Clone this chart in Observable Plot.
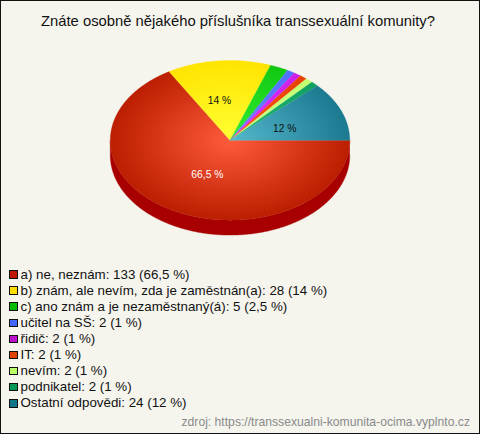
<!DOCTYPE html>
<html lang="cs"><head><meta charset="utf-8">
<script src="https://cdn.jsdelivr.net/npm/d3@7"></script>
<script src="https://cdn.jsdelivr.net/npm/@observablehq/plot@0.6"></script>
<style>
html,body{margin:0;padding:0;background:#f5f5ee}
#c{position:relative;width:480px;height:434px;box-sizing:border-box;border:1px solid #111;background:#f5f5ee;overflow:hidden;font-family:"Liberation Sans",Arial,sans-serif;color:#111}
#t{position:absolute;left:-1px;width:476px;top:11px;text-align:center;font-size:14.8px;line-height:18px}
#p{position:absolute;left:-1px;top:49px}
#p svg{background:transparent;display:block}
#l{position:absolute;left:8px;top:265.5px;font-size:13.33px}
.r{height:16.1px;line-height:16.1px;white-space:nowrap;display:flex;align-items:center}
.s{width:6.5px;height:6.5px;border:1px solid #111;margin-right:3px;flex:none}
#z{position:absolute;right:9px;top:414px;font-size:12.17px;line-height:15px;color:#8a8a8a}
</style></head><body>
<div id="c">
<div id="t"></div><div id="p"></div><div id="l"></div><div id="z"></div>
</div>
<script>
const title = "Znáte osobně nějakého příslušníka transsexuální komunity?";
const source = "zdroj: https://transsexualni-komunita-ocima.vyplnto.cz";
const categories = ["a) ne, neznám","b) znám, ale nevím, zda je zaměstnán(a)","c) ano znám a je nezaměstnaný(á)","učitel na SŠ","řidič","IT","nevím","podnikatel","Ostatní odpovědi"];
const counts = [133,28,5,2,2,2,2,2,24];
const percents = [66.5,14,2.5,1,1,1,1,1,12];
const swatchColors = ["#c01800","#ffdd00","#00bb00","#4466ff","#bb11cc","#dd4400","#bbff66","#009955","#117788"];
const centerColors = ["#ff5a3c","#ffff33","#33ee33","#6688ff","#dd33ff","#ff5511","#ccff88","#22bb77","#55b8cc"];
const edgeColors = ["#bb1e00","#ffe400","#10c810","#4f70ff","#cc20e8","#e84000","#c4ff70","#10a060","#1c7a90"];
const sideColor = "#a80000";
const fmt = p => String(p).replace(".", ",") + " %";
const total = d3.sum(counts);
const tilt = 0.1875; // height of the pie's rim in y units

function arcPoints(a0, a1, dy = 0) {
  const n = Math.max(2, Math.ceil((a1 - a0) / (Math.PI / 360)));
  return d3.range(n + 1).map(i => {
    const a = a0 + (a1 - a0) * i / n;
    return {x: Math.cos(a), y: -Math.sin(a) - dy};
  });
}
let acc = 0;
const slices = counts.map((c, i) => {
  const a0 = acc / total * 2 * Math.PI;
  acc += c;
  const a1 = acc / total * 2 * Math.PI;
  return {i, a0, a1, mid: (a0 + a1) / 2};
});
const sidePts = [...arcPoints(0, Math.PI), ...arcPoints(0, Math.PI, tilt).reverse()];
const labelled = [{i:0, dx:7, dy:0, fill:"#fff"},{i:1, dx:-5, dy:0, fill:"#111"},{i:8, dx:-1, dy:3, fill:"#111"}];

function gradients(index, {x, y}) {
  const defs = d3.create("svg:defs");
  const cx = x(0), cy = y(0), rx = x(1) - cx, ry = cy - y(1);
  slices.forEach(s => {
    const g = defs.append("radialGradient").attr("id", "g" + s.i)
      .attr("gradientUnits", "userSpaceOnUse").attr("cx", 0).attr("cy", 0).attr("r", 1)
      .attr("gradientTransform", `translate(${cx},${cy}) scale(${rx},${ry})`);
    g.append("stop").attr("offset", 0).attr("stop-color", centerColors[s.i]);
    g.append("stop").attr("offset", 1).attr("stop-color", edgeColors[s.i]);
  });
  return defs.node();
}

const plot = Plot.plot({
  width: 480, height: 190, margin: 0,
  x: {domain: [-1, 1], range: [110, 350], axis: null},
  y: {domain: [-1, 1], range: [170, 10], axis: null},
  style: {background: "transparent"},
  marks: [
    gradients,
    Plot.line(sidePts, {x: "x", y: "y", fill: sideColor, stroke: sideColor, strokeWidth: 0.4}),
    ...slices.map(s => Plot.line(
      [{x: 0, y: 0}, ...arcPoints(s.a0, s.a1), {x: 0, y: 0}],
      {x: "x", y: "y", fill: `url(#g${s.i})`, stroke: `url(#g${s.i})`, strokeWidth: 0.3}
    )),
    ...labelled.map(l => Plot.text([slices[l.i]], {
      x: s => 0.5 * Math.cos(s.mid), y: s => -0.5 * Math.sin(s.mid),
      text: s => fmt(percents[s.i]), dx: l.dx, dy: l.dy, fill: l.fill,
      fontSize: 10.3, fontFamily: "Liberation Sans"
    }))
  ]
});
document.getElementById("p").append(plot);
document.getElementById("t").textContent = title;
document.getElementById("z").textContent = source;
const L = document.getElementById("l");
categories.forEach((c, i) => {
  const r = document.createElement("div"); r.className = "r";
  const s = document.createElement("span"); s.className = "s"; s.style.background = swatchColors[i];
  const t = document.createElement("span"); t.textContent = `${c}: ${counts[i]} (${fmt(percents[i])})`;
  r.append(s, t); L.append(r);
});
</script>
</body></html>
